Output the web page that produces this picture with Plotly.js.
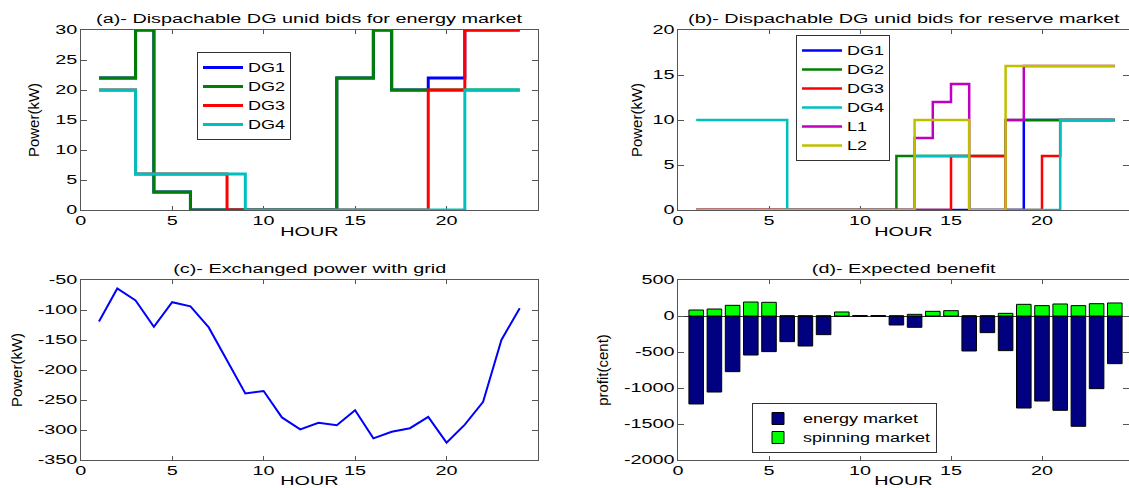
<!DOCTYPE html>
<html>
<head>
<meta charset="utf-8">
<script src="https://cdn.plot.ly/plotly-3.0.1.min.js"></script>
<style>
  html, body { margin: 0; padding: 0; background: #ffffff; }
  #chart { width: 1129px; height: 488px; }
</style>
</head>
<body>
<div id="chart"></div>
<script>
// ---------------- data ----------------
const hours = [1,2,3,4,5,6,7,8,9,10,11,12,13,14,15,16,17,18,19,20,21,22,23,24];

// (a) energy-market bids (kW), stairs
const energyDG1 = [22,22,30,3,3,0,0,0,0,0,0,0,0,22,22,30,20,20,22,22,30,30,30,30];
const energyDG2 = [22,22,30,3,3,0,0,0,0,0,0,0,0,22,22,30,20,20,20,20,20,20,20,20];
const energyDG3 = [20,20,6,6,6,6,6,0,0,0,0,0,0,0,0,0,0,0,20,20,30,30,30,30];
const energyDG4 = [20,20,6,6,6,6,6,6,0,0,0,0,0,0,0,0,0,0,0,0,20,20,20,20];

// (b) reserve-market bids (kW), stairs
const reserveDG1 = [0,0,0,0,0,0,0,0,0,0,0,0,0,0,0,0,0,0,10,10,10,10,10,10];
const reserveDG2 = [0,0,0,0,0,0,0,0,0,0,0,6,6,6,6,6,6,10,10,10,10,10,10,10];
const reserveDG3 = [0,0,0,0,0,0,0,0,0,0,0,0,0,0,6,6,6,0,0,6,10,10,10,10];
const reserveDG4 = [10,10,10,10,10,0,0,0,0,0,0,0,6,6,6,0,0,0,0,0,10,10,10,10];
const reserveL1  = [0,0,0,0,0,0,0,0,0,0,0,0,8,12,14,0,0,10,16,16,16,16,16,16];
const reserveL2  = [0,0,0,0,0,0,0,0,0,0,0,0,10,10,10,0,0,16,16,16,16,16,16,16];

// (c) exchanged power with grid (kW)
const gridPower = [-119,-64,-84,-128,-87,-94,-129,-185,-239,-235,-279,-299,-288,-292,-267,-314,-303,-297,-278,-321,-291,-253,-150,-97];

// (d) expected benefit (cent)
const energyMarket   = [-1222,-1056,-773,-542,-495,-356,-417,-259,0,0,0,-125,-157,0,0,-486,-231,-481,-1278,-1181,-1310,-1532,-1009,-662];
const spinningMarket = [83,97,148,194,190,0,0,0,56,6,6,0,23,65,74,0,0,37,162,144,167,144,171,181];

// tick labels
const hourTicks = [0,5,10,15,20];
const hourTickText = ["0","5","10","15","20"];
const aTicks = [0,5,10,15,20,25,30];
const aTickText = ["0","5","10","15","20","25","30"];
const bTicks = [0,5,10,15,20];
const bTickText = ["0","5","10","15","20"];
const cTicks = [-350,-300,-250,-200,-150,-100,-50];
const cTickText = ["-350","-300","-250","-200","-150","-100","-50"];
const dTicks = [-2000,-1500,-1000,-500,0,500];
const dTickText = ["-2000","-1500","-1000","-500","0","500"];

const titles = [
  "(a)- Dispachable DG unid bids for energy market",
  "(b)- Dispachable DG unid bids for reserve market",
  "(c)- Exchanged power with grid",
  "(d)- Expected benefit"
];

// ---------------- styling ----------------
const FONT = "Liberation Sans, Arial, Helvetica, sans-serif";
const W = 1129, H = 488;
const leftDom = [80.7 / W, 538 / W];
const rightDom = [678 / W, 1];
const topDom = [1 - 210 / H, 1 - 30 / H];
const botDom = [1 - 460 / H, 1 - 280 / H];
const C = { blue: "#0000ff", green: "#008000", red: "#ff0000", cyan: "#00bfbf", magenta: "#bf00bf", olive: "#bfbf00" };

function stairs(y, name, color, xa, ya, width, legend) {
  return { type: "scatter", mode: "lines", x: hours, y: y, name: name,
           line: { color: color, width: width, shape: "hv" },
           xaxis: xa, yaxis: ya, legend: legend, cliponaxis: false, hoverinfo: "skip" };
}

const traces = [
  stairs(energyDG1, "DG1", C.blue, "x", "y", 3, "legend"),
  stairs(energyDG2, "DG2", C.green, "x", "y", 3, "legend"),
  stairs(energyDG3, "DG3", C.red, "x", "y", 3, "legend"),
  stairs(energyDG4, "DG4", C.cyan, "x", "y", 3, "legend"),

  stairs(reserveDG1, "DG1", C.blue, "x2", "y2", 2.5, "legend2"),
  stairs(reserveDG2, "DG2", C.green, "x2", "y2", 2.5, "legend2"),
  stairs(reserveDG3, "DG3", C.red, "x2", "y2", 2.5, "legend2"),
  stairs(reserveDG4, "DG4", C.cyan, "x2", "y2", 2.5, "legend2"),
  stairs(reserveL1, "L1", C.magenta, "x2", "y2", 2.5, "legend2"),
  stairs(reserveL2, "L2", C.olive, "x2", "y2", 2.5, "legend2"),

  { type: "scatter", mode: "lines", x: hours, y: gridPower, name: "grid",
    line: { color: "#0000ff", width: 2 }, xaxis: "x3", yaxis: "y3", showlegend: false, hoverinfo: "skip" },

  { type: "bar", x: hours, y: energyMarket, name: "energy market", width: 0.8,
    marker: { color: "#000080", line: { color: "#000000", width: 1 } },
    xaxis: "x4", yaxis: "y4", legend: "legend3", hoverinfo: "skip" },
  { type: "bar", x: hours, y: spinningMarket, name: "spinning market", width: 0.8,
    marker: { color: "#00ff00", line: { color: "#000000", width: 1 } },
    xaxis: "x4", yaxis: "y4", legend: "legend3", hoverinfo: "skip" }
];

function xAxis(dom, anchor, range) {
  return { domain: dom, anchor: anchor, range: range, tickmode: "array",
           tickvals: hourTicks, ticktext: hourTickText,
           ticks: "inside", ticklen: 4, tickcolor: "#555", showline: true, linecolor: "#555",
           linewidth: 1, mirror: "ticks", showgrid: false, zeroline: false, layer: "below traces",
           tickfont: { family: FONT, size: 12, color: "#000" },
           title: { text: "HOUR", font: { family: FONT, size: 12, color: "#000" }, standoff: 0 } };
}
function yAxis(dom, anchor, range, tv, tt, label, standoff, zl) {
  return { domain: dom, anchor: anchor, range: range, tickmode: "array",
           tickvals: tv, ticktext: tt,
           ticks: "inside", ticklen: 6, tickcolor: "#555", showline: true, linecolor: "#555",
           linewidth: 1, mirror: "ticks", showgrid: false, zeroline: !!zl, zerolinecolor: "#333",
           zerolinewidth: 1, layer: "below traces",
           tickfont: { family: FONT, size: 12, color: "#000" },
           title: { text: label, font: { family: FONT, size: 15, color: "#000" }, standoff: standoff } };
}

function legendBox(x, y) {
  return { x: x, y: y, xanchor: "left", yanchor: "top", xref: "paper", yref: "paper",
           bgcolor: "#ffffff", bordercolor: "#333333", borderwidth: 1,
           font: { family: FONT, size: 12, color: "#000" }, itemwidth: 40,
           traceorder: "normal", tracegroupgap: 0 };
}

function titleAnn(text, xref, y) {
  return { text: text, xref: xref, x: 0.5, yref: "paper", y: y, xanchor: "center", yanchor: "middle",
           showarrow: false, font: { family: FONT, size: 12, color: "#000" } };
}

const layout = {
  width: W, height: H,
  margin: { l: 0, r: 0, t: 0, b: 0, pad: 0 },
  paper_bgcolor: "#ffffff", plot_bgcolor: "#ffffff",
  barmode: "relative",
  hovermode: false,
  xaxis: xAxis(leftDom, "y", [0, 25]),
  yaxis: yAxis(topDom, "x", [0, 30], aTicks, aTickText, "Power(kW)", 20),
  xaxis2: xAxis(rightDom, "y2", [0, 24.78]),
  yaxis2: yAxis(topDom, "x2", [0, 20], bTicks, bTickText, "Power(kW)", 14),
  xaxis3: xAxis(leftDom, "y3", [0, 25]),
  yaxis3: yAxis(botDom, "x3", [-350, -50], cTicks, cTickText, "Power(kW)", 27),
  xaxis4: xAxis(rightDom, "y4", [0, 24.78]),
  yaxis4: yAxis(botDom, "x4", [-2000, 500], dTicks, dTickText, "profit(cent)", 31, true),
  legend: legendBox(197 / W, 1 - 52 / H),
  legend2: legendBox(796 / W, 1 - 35 / H),
  legend3: legendBox(752 / W, 1 - 403 / H),
  annotations: [
    titleAnn(titles[0], "x domain", 1 - 19 / H),
    titleAnn(titles[1], "x2 domain", 1 - 19 / H),
    titleAnn(titles[2], "x3 domain", 1 - 269 / H),
    titleAnn(titles[3], "x4 domain", 1 - 269 / H)
  ]
};

// horizontal widening of text to imitate the stretched original (idempotent)
const TEXT_STRETCH = 1.65;
const LEGEND_STRETCH = 1.5;
function isLegendText(t) {
  return Array.prototype.some.call(t.classList, function (c) { return /^legend\d*text$/.test(c); });
}
function stretchTexts(gd) {
  gd.querySelectorAll("svg text").forEach(function (t) {
    try {
      if (t.classList.contains("ytitle")) return;
      const tr = t.getAttribute("transform") || "";
      if (tr.indexOf("rotate") >= 0) return;
      const content = t.textContent;
      let nat = parseFloat(t.getAttribute("data-natural") || "0");
      if (!nat || t.getAttribute("data-content") !== content) {
        t.removeAttribute("textLength");
        nat = t.getComputedTextLength();
        t.setAttribute("data-natural", String(nat));
        t.setAttribute("data-content", content);
      }
      if (!nat) return;
      const f = isLegendText(t) ? LEGEND_STRETCH : TEXT_STRETCH;
      t.setAttribute("textLength", (nat * f).toFixed(2));
      t.setAttribute("lengthAdjust", "spacingAndGlyphs");
    } catch (e) { /* ignore */ }
  });
  // find each legend root and widen its frame, drop the clipping
  const roots = new Map();
  gd.querySelectorAll("svg text").forEach(function (t) {
    if (!isLegendText(t)) return;
    let g = t.parentNode;
    while (g && g !== gd) {
      if (g.querySelector && g.querySelector(":scope > rect.bg")) break;
      g = g.parentNode;
    }
    if (!g || g === gd) return;
    const nat = parseFloat(t.getAttribute("data-natural") || "0");
    const extra = nat * (LEGEND_STRETCH - 1);
    roots.set(g, Math.max(roots.get(g) || 0, extra));
  });
  roots.forEach(function (extra, g) {
    try {
      g.querySelectorAll("[clip-path]").forEach(function (el) { el.removeAttribute("clip-path"); });
      const bg = g.querySelector(":scope > rect.bg");
      const cur = parseFloat(bg.getAttribute("width"));
      const done = parseFloat(bg.getAttribute("data-set") || "NaN");
      if (cur !== done) {
        const nw = cur + extra;
        bg.setAttribute("width", nw.toFixed(2));
        bg.setAttribute("data-set", nw.toFixed(2));
      }
    } catch (e) { /* ignore */ }
  });
}

const gd = document.getElementById("chart");
Plotly.newPlot(gd, traces, layout, { staticPlot: true, displayModeBar: false }).then(function () {
  const run = function () { stretchTexts(gd); };
  run();
  gd.on("plotly_afterplot", run);
  if (document.fonts && document.fonts.ready) document.fonts.ready.then(run);
  requestAnimationFrame(run);
  setTimeout(run, 50);
  setTimeout(run, 200);
  setTimeout(run, 600);
});
</script>
</body>
</html>
